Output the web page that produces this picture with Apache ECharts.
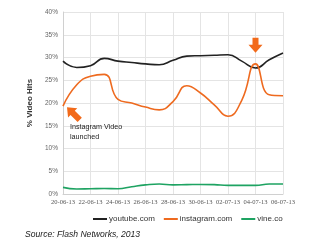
<!DOCTYPE html>
<html><head><meta charset="utf-8">
<script src="https://cdn.jsdelivr.net/npm/echarts@6/dist/echarts.min.js"></script>
<style>html,body{margin:0;padding:0;background:#fff}#c{width:320px;height:247px}</style>
</head><body><div id="c"></div>
<script>
var categories = ['20-06-13','21-06-13','22-06-13','23-06-13','24-06-13','25-06-13','26-06-13','27-06-13','28-06-13','29-06-13','30-06-13','01-07-13','02-07-13','03-07-13','04-07-13','05-07-13','06-07-13'];
var youtube   = [29.2, 27.8, 28.2, 29.8, 29.2, 28.9, 28.6, 28.4, 29.4, 30.3, 30.4, 30.5, 30.6, 29.2, 27.7, 29.5, 31.0];
var instagram = [19.3, 24.0, 25.9, 26.3, 20.8, 20.0, 19.1, 18.5, 20.3, 23.8, 22.2, 19.6, 17.1, 20.6, 28.6, 21.8, 21.6];
var vine      = [1.45, 1.1, 1.15, 1.2, 1.15, 1.6, 2.0, 2.2, 2.0, 2.05, 2.1, 2.05, 1.9, 1.9, 1.9, 2.2, 2.2];
var yTicks = [0, 5, 10, 15, 20, 25, 30, 35, 40];
var seriesNames = ['youtube.com', 'instagram.com', 'vine.co'];

var chart = echarts.init(document.getElementById('c'));
var gridCol = '#e4e4e4';
function mk(name, data, color) {
  return { name: name, type: 'line', data: data, smooth: 0.5, symbol: 'none',
    lineStyle: { color: color, width: 1.6 }, itemStyle: { color: color } };
}
chart.setOption({
  animation: false,
  grid: { left: 63, right: 37, top: 12, bottom: 53 },
  xAxis: {
    type: 'category', data: categories, boundaryGap: false,
    axisLine: { lineStyle: { color: '#d0d0d0' } }, axisTick: { show: false },
    axisLabel: { interval: 1, fontFamily: 'Liberation Serif', fontSize: 6.5, color: '#555', margin: 5 },
    splitLine: { show: true, interval: 1, lineStyle: { color: gridCol } }
  },
  yAxis: {
    type: 'value', min: yTicks[0], max: yTicks[yTicks.length-1], interval: 5,
    name: '% Video Hits', nameLocation: 'middle', nameGap: 22, nameRotate: 90,
    nameTextStyle: { fontFamily: 'Liberation Sans', fontWeight: 'bold', fontSize: 8, color: '#333' },
    axisLine: { show: true, lineStyle: { color: '#d0d0d0' } }, axisTick: { show: false },
    axisLabel: { formatter: '{value}%', fontFamily: 'Liberation Sans', fontSize: 6.5, color: '#666', margin: 5 },
    splitLine: { lineStyle: { color: gridCol } }
  },
  legend: {
    data: seriesNames, left: 88, top: 210, itemWidth: 14, itemHeight: 2, itemGap: 9, icon: 'rect',
    textStyle: { fontFamily: 'Liberation Sans', fontSize: 8, color: '#333', padding: [0,0,0,-3] }
  },
  series: [
    mk(seriesNames[0], youtube, '#222222'),
    mk(seriesNames[1], instagram, '#ee6a1f'),
    mk(seriesNames[2], vine, '#1ea362')
  ]
});

var p0 = chart.convertToPixel({ seriesIndex: 1 }, [0, instagram[0]]);
var p1 = chart.convertToPixel({ seriesIndex: 1 }, [14, instagram[14]]);
var arrowCol = '#f26a1a';
chart.setOption({
  graphic: [
    { type: 'polygon', x: p0[0] + 4, y: p0[1] + 1, rotation: Math.PI * 0.25,
      shape: { points: [[0,0],[-6.5,8],[-3,8],[-3,18],[3,18],[3,8],[6.5,8]] },
      style: { fill: arrowCol } },
    { type: 'polygon', x: p1[0], y: p1[1] - 11,
      shape: { points: [[0,0],[-7,-8],[-3,-8],[-3,-15],[3,-15],[3,-8],[7,-8]] },
      style: { fill: arrowCol } },
    { type: 'text', left: 70, top: 122,
      style: { text: 'Instagram Video\nlaunched', font: '7.2px "Liberation Sans"', fill: '#222', lineHeight: 10 } },
    { type: 'text', left: 25, top: 230,
      style: { text: 'Source: Flash Networks, 2013', font: 'italic 8.6px "Liberation Sans"', fill: '#222' } }
  ]
});
</script></body></html>
